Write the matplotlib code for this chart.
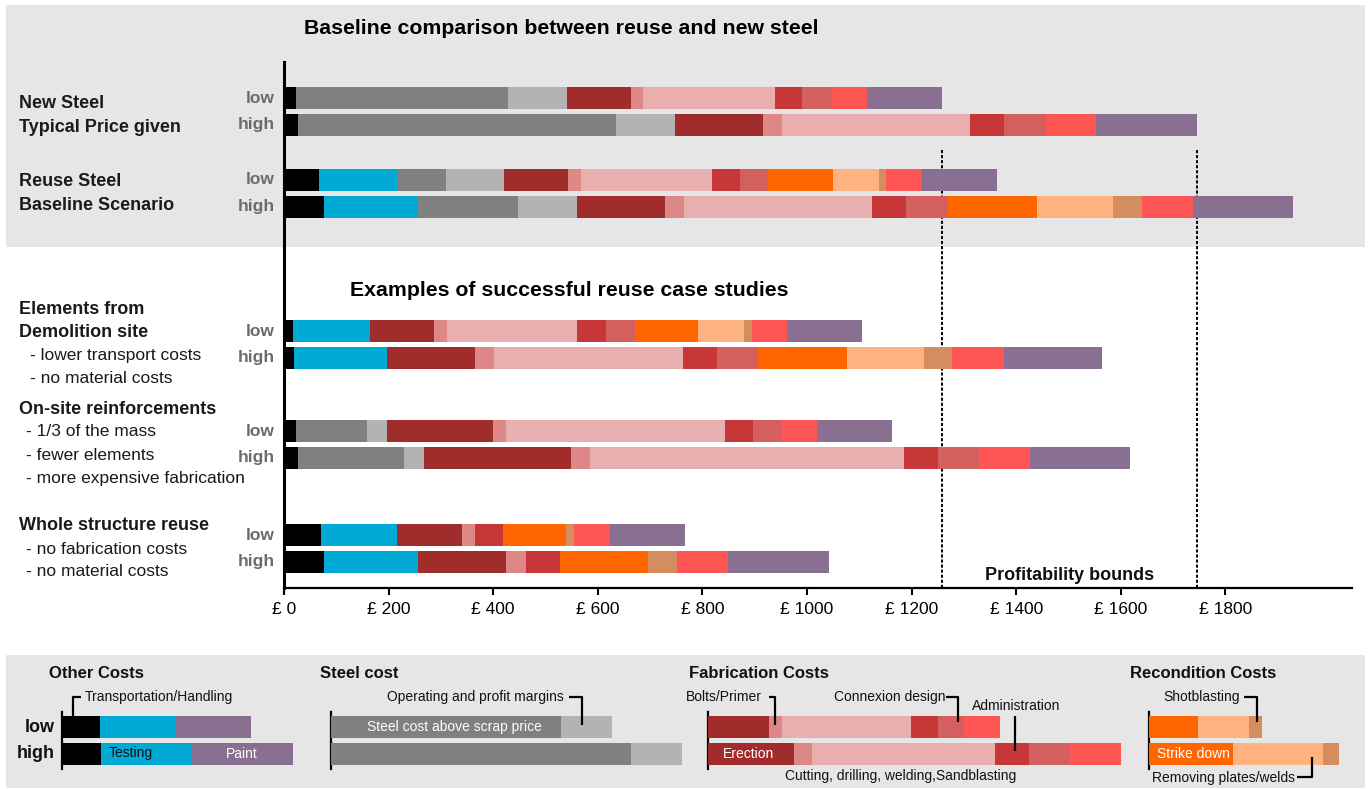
import matplotlib
matplotlib.use("Agg")
import matplotlib.pyplot as plt
from matplotlib.patches import Rectangle
from matplotlib import font_manager
import numpy as np

# ---------------------------------------------------------------- data (GBP)
components = ["Transportation/Handling", "Testing", "Steel cost above scrap price",
              "Operating and profit margins", "Erection", "Bolts/Primer",
              "Cutting, drilling, welding,Sandblasting", "Administration",
              "Connexion design", "Strike down", "Removing plates/welds",
              "Shotblasting", "Other fabrication", "Paint"]
colors = ["#000000", "#00aad4", "#808080", "#b3b3b3", "#a02c2c", "#de8787",
          "#e9afaf", "#c83737", "#d35f5f", "#ff6600", "#ffb380", "#d38d5f",
          "#ff5555", "#8a7090"]

new_low = [23, 0, 405, 113, 122, 24, 251, 53, 56, 0, 0, 0, 67, 145]
new_high = [27, 0, 608, 113, 168, 37, 359, 65, 80, 0, 0, 0, 96, 193]
reuse_low = [67, 150, 92, 111, 123, 25, 250, 53, 55, 123, 88, 14, 69, 144]
reuse_high = [76, 180, 191, 113, 168, 36, 360, 65, 80, 171, 145, 56, 97, 191]
demolition_low = [17, 147, 0, 0, 122, 25, 250, 54, 57, 120, 88, 14, 68, 143]
demolition_high = [19, 178, 0, 0, 168, 36, 361, 65, 80, 169, 147, 55, 98, 189]
onsite_low = [23, 0, 136, 38, 202, 25, 419, 53, 54, 0, 0, 0, 69, 143]
onsite_high = [27, 0, 203, 38, 281, 36, 600, 65, 78, 0, 0, 0, 98, 191]
whole_low = [70, 147, 0, 0, 123, 25, 0, 54, 0, 121, 0, 14, 69, 143]
whole_high = [77, 180, 0, 0, 168, 37, 0, 65, 0, 169, 0, 55, 98, 193]

tick_values = [0, 200, 400, 600, 800, 1000, 1200, 1400, 1600, 1800]
tick_labels = ["£ " + str(v) for v in tick_values]

# key bars (GBP)
key_other_low = [73, 143, 145]
key_other_high = [75, 174, 193]
key_other_colors = [colors[0], colors[1], colors[13]]
key_steel_low = [439, 99]
key_steel_high = [573, 99]
key_steel_colors = [colors[2], colors[3]]
key_fab_low = [116, 25, 247, 52, 50, 69]
key_fab_high = [164, 35, 349, 66, 77, 98]
key_fab_colors = colors[4:9] + [colors[12]]
key_recon_low = [94, 98, 25]
key_recon_high = [161, 171, 32]
key_recon_colors = colors[9:12]

# ---------------------------------------------------------------- layout
W, H = 1369, 789
PX_PER_GBP = 0.523
PANEL = "#e6e6e6"
LABEL_GREY = "#6b6b6b"

names = {f.name for f in font_manager.fontManager.ttflist}
BASE = "Liberation Sans" if "Liberation Sans" in names else "DejaVu Sans"
NARROW = "Liberation Sans Narrow" if "Liberation Sans Narrow" in names else BASE
narrow_size = 11 if NARROW != BASE else 10
plt.rcParams["font.family"] = [BASE, "DejaVu Sans"]


def fx(px):
    return px / W


def fy(py):
    return 1 - py / H


fig = plt.figure(figsize=(W / 100, H / 100), dpi=100)
fig.patch.set_facecolor("white")

# grey backdrop panels (behind every axes)
fig.patches.append(Rectangle((fx(6), fy(247)), (1365 - 6) / W, (247 - 5) / H,
                             transform=fig.transFigure, facecolor=PANEL,
                             edgecolor="none", zorder=-5))
fig.patches.append(Rectangle((fx(6), fy(788)), (1365 - 6) / W, (788 - 655) / H,
                             transform=fig.transFigure, facecolor=PANEL,
                             edgecolor="none", zorder=-5))

# ---------------------------------------------------------------- main chart
ax_left, ax_right, ax_top, ax_bottom = 284, 1352, 62, 588
ax = fig.add_axes([fx(ax_left), fy(ax_bottom), (ax_right - ax_left) / W,
                   (ax_bottom - ax_top) / H])
ax.set_facecolor("none")
ax.set_xlim(0, (ax_right - ax_left) / PX_PER_GBP)
ax.set_ylim(ax_bottom, ax_top)

rows = [(new_low, new_high, 111.6), (reuse_low, reuse_high, 193.4),
        (demolition_low, demolition_high, 344.5), (onsite_low, onsite_high, 444.5),
        (whole_low, whole_high, 548.4)]
bar_h = 22
offset = 13.4


def stacked(axis, values, y, cols, height):
    left = 0
    for v, c in zip(values, cols):
        if v > 0:
            axis.barh(y, v, left=left, height=height, color=c, edgecolor="none",
                      zorder=3)
        left += v
    return left


for low, high, yc in rows:
    stacked(ax, low, yc - offset, colors, bar_h)
    stacked(ax, high, yc + offset, colors, bar_h)
    for txt, y in (("low", yc - offset), ("high", yc + offset)):
        fig.text(fx(275), fy(y), txt, ha="right", va="center", fontsize=12.5,
                 fontweight="bold", color=LABEL_GREY)

# profitability bounds = new steel totals
bounds = [sum(new_low), sum(new_high)]
ax.vlines(bounds, 150, ax_bottom, colors="black", linewidth=1.4,
          linestyles=(0, (1.6, 1.0)), zorder=1)
ax.text(np.mean(bounds), 575, "Profitability bounds", ha="center", va="center",
        fontsize=13, fontweight="bold", color="#111111")

for s in ("top", "right"):
    ax.spines[s].set_visible(False)
ax.spines["left"].set_linewidth(2.2)
ax.spines["bottom"].set_linewidth(1.6)
ax.set_yticks([])
ax.set_xticks(tick_values)
ax.set_xticklabels(tick_labels, fontsize=12.5)
ax.tick_params(axis="x", length=5, width=1.5, pad=5)

# headings
fig.text(fx(304), fy(28), "Baseline comparison between reuse and new steel",
         ha="left", va="center", fontsize=15.3, fontweight="bold")
fig.text(fx(350), fy(291), "Examples of successful reuse case studies",
         ha="left", va="center", fontsize=15.3, fontweight="bold")

# row descriptions
desc_bold = [("New Steel", 104), ("Typical Price given", 127), ("Reuse Steel", 182),
             ("Baseline Scenario", 205), ("Elements from", 310),
             ("Demolition site", 333), ("On-site reinforcements", 409),
             ("Whole structure reuse", 526)]
desc_plain = [("- lower transport costs", 356, 30), ("- no material costs", 379, 30),
              ("- 1/3 of the mass", 432, 26), ("- fewer elements", 455, 26),
              ("- more expensive fabrication", 478, 26),
              ("- no fabrication costs", 549, 26), ("- no material costs", 572, 26)]
for txt, y in desc_bold:
    fig.text(fx(19), fy(y), txt, ha="left", va="center", fontsize=13,
             fontweight="bold", color="#1a1a1a")
for txt, y, x in desc_plain:
    fig.text(fx(x), fy(y), txt, ha="left", va="center", fontsize=12.5,
             color="#1a1a1a")

# ---------------------------------------------------------------- key panel
key_top, key_bottom = 712, 769
key_low_y, key_high_y = 727, 753.5


def key_axes(spine_px, width_px):
    k = fig.add_axes([fx(spine_px), fy(key_bottom), width_px / W,
                      (key_bottom - key_top) / H])
    k.set_facecolor("none")
    k.set_xlim(0, width_px / PX_PER_GBP)
    k.set_ylim(key_bottom, key_top)
    for s in ("top", "right", "bottom"):
        k.spines[s].set_visible(False)
    k.spines["left"].set_linewidth(1.6)
    k.set_xticks([])
    k.set_yticks([])
    return k


def px_line(xs, ys):
    fig.add_artist(plt.Line2D([fx(x) for x in xs], [fy(y) for y in ys],
                              transform=fig.transFigure, color="black",
                              linewidth=1.6, solid_capstyle="butt", zorder=5))


def small(x, y, txt, ha="left", color="#111111"):
    fig.text(fx(x), fy(y), txt, ha=ha, va="center", fontsize=narrow_size,
             family=[NARROW, "DejaVu Sans"], color=color, zorder=6)


def key_title(x, txt):
    fig.text(fx(x), fy(673), txt, ha="left", va="center", fontsize=12,
             fontweight="bold", color="#111111")


fig.text(fx(55), fy(key_low_y), "low", ha="right", va="center", fontsize=13,
         fontweight="bold", color="#111111")
fig.text(fx(55), fy(key_high_y), "high", ha="right", va="center", fontsize=13,
         fontweight="bold", color="#111111")

# other costs
k1 = key_axes(62, 260)
stacked(k1, key_other_low, key_low_y, key_other_colors, bar_h)
stacked(k1, key_other_high, key_high_y, key_other_colors, bar_h)
key_title(49, "Other Costs")
small(85, 697, "Transportation/Handling")
px_line([81, 73, 73], [697, 697, 716])
small(109, key_high_y, "Testing")
small(242, key_high_y, "Paint", ha="center", color="white")

# steel cost
k2 = key_axes(331, 380)
stacked(k2, key_steel_low, key_low_y, key_steel_colors, bar_h)
stacked(k2, key_steel_high, key_high_y, key_steel_colors, bar_h)
key_title(320, "Steel cost")
small(454, key_low_y, "Steel cost above scrap price", ha="center", color="white")
small(564, 697, "Operating and profit margins", ha="right")
px_line([569, 582, 582], [697, 697, 725])

# fabrication costs
k3 = key_axes(708, 430)
stacked(k3, key_fab_low, key_low_y, key_fab_colors, bar_h)
stacked(k3, key_fab_high, key_high_y, key_fab_colors, bar_h)
key_title(689, "Fabrication Costs")
small(686, 697, "Bolts/Primer")
small(749, key_high_y, "Erection", ha="center", color="white")
px_line([769, 775, 775], [697, 697, 725])
small(834, 697, "Connexion design")
px_line([946, 958, 958], [697, 697, 722])
small(972, 706, "Administration")
px_line([1015, 1015], [716, 751])
small(785, 776, "Cutting, drilling, welding,Sandblasting")

# recondition costs
k4 = key_axes(1149, 210)
stacked(k4, key_recon_low, key_low_y, key_recon_colors, bar_h)
stacked(k4, key_recon_high, key_high_y, key_recon_colors, bar_h)
key_title(1130, "Recondition Costs")
small(1163, 697, "Shotblasting")
px_line([1244, 1257, 1257], [697, 697, 722])
small(1193, key_high_y, "Strike down", ha="center", color="white")
small(1152, 778, "Removing plates/welds")
px_line([1297, 1312, 1312], [777, 777, 757])

fig.savefig("out.png", dpi=100, facecolor=fig.get_facecolor())
